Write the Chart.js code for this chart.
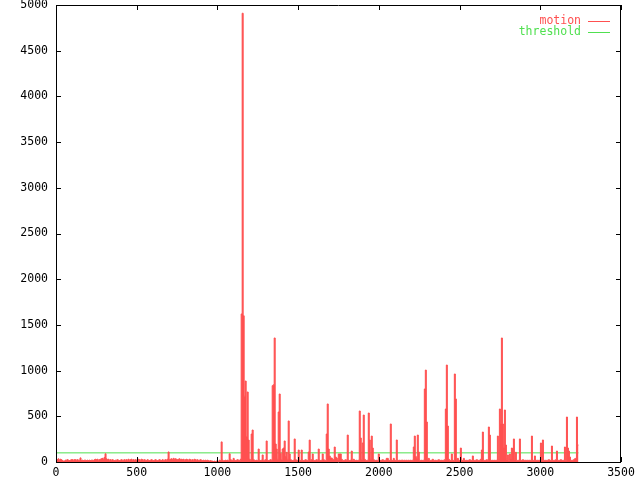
<!DOCTYPE html>
<html>
<head>
<meta charset="utf-8">
<script src="https://cdn.jsdelivr.net/npm/chart.js@4/dist/chart.umd.min.js"></script>
<style>
  html, body { margin: 0; padding: 0; background: #fff; }
  #chart { display: block; }
</style>
</head>
<body>
<canvas id="chart" width="640" height="480"></canvas>
<script>
// motion level, one sample roughly every 6.2 frames
const frameStep = 6.2;
const motion = [
    30, 25, 35, 20, 30, 25, 15, 10, 10, 20,
    20, 25, 20, 15, 20, 25, 25, 20, 25, 25,
    20, 25, 20, 20, 45, 15, 20, 15, 20, 20,
    15, 20, 15, 20, 15, 20, 20, 15, 25, 30,
    25, 30, 20, 25, 30, 35, 40, 30, 50, 90,
    35, 25, 30, 20, 25, 20, 25, 20, 15, 20,
    20, 25, 20, 15, 20, 25, 20, 20, 25, 20,
    25, 20, 30, 20, 25, 30, 20, 25, 20, 25,
    20, 25, 30, 25, 20, 30, 25, 20, 25, 20,
    15, 25, 20, 15, 20, 25, 20, 15, 20, 25,
    20, 15, 20, 25, 20, 15, 25, 20, 20, 25,
    20, 30, 110, 25, 30, 35, 25, 40, 30, 35,
    30, 25, 30, 35, 25, 30, 25, 30, 20, 25,
    30, 25, 20, 30, 25, 20, 25, 20, 30, 25,
    20, 25, 15, 20, 25, 20, 15, 20, 15, 20,
    15, 20, 15, 10, 15, 10, 10, 5, 10, 5,
    10, 10, 5, 20, 15, 220, 20, 10, 15, 20,
    15, 20, 10, 90, 25, 20, 15, 40, 20, 15,
    20, 25, 20, 15, 30, 1620, 4910, 1600, 720, 886,
    277, 766, 240, 30, 20, 306, 350, 25, 20, 15,
    20, 15, 142, 20, 15, 20, 77, 15, 20, 25,
    230, 20, 15, 20, 25, 20, 835, 845, 1357, 197,
    142, 30, 547, 744, 95, 25, 142, 153, 230, 60,
    106, 30, 449, 88, 25, 20, 15, 20, 252, 25,
    20, 15, 131, 20, 15, 131, 20, 15, 20, 25,
    20, 15, 109, 240, 20, 25, 88, 20, 15, 20,
    25, 20, 142, 20, 15, 20, 88, 25, 20, 15,
    306, 635, 142, 66, 44, 44, 30, 25, 164, 55,
    44, 25, 88, 88, 88, 30, 20, 15, 20, 25,
    20, 295, 20, 15, 20, 120, 15, 30, 20, 15,
    20, 15, 20, 558, 263, 25, 208, 514, 30, 20,
    15, 20, 536, 241, 30, 284, 153, 25, 20, 15,
    20, 15, 88, 20, 15, 20, 25, 20, 15, 20,
    40, 40, 20, 15, 416, 20, 15, 40, 20, 15,
    241, 20, 15, 20, 15, 20, 20, 15, 20, 15,
    20, 15, 20, 15, 20, 15, 20, 164, 284, 60,
    40, 295, 109, 20, 15, 20, 15, 20, 799, 1006,
    438, 30, 40, 20, 15, 20, 30, 20, 15, 20,
    15, 20, 25, 20, 15, 20, 15, 20, 25, 580,
    1061, 394, 30, 20, 15, 88, 20, 15, 963, 690,
    20, 40, 20, 15, 153, 20, 15, 40, 20, 15,
    20, 15, 20, 25, 20, 15, 66, 20, 15, 20,
    25, 20, 15, 20, 30, 131, 328, 20, 15, 20,
    25, 20, 383, 295, 20, 15, 20, 15, 20, 15,
    20, 284, 20, 580, 416, 1357, 416, 153, 569, 186,
    30, 77, 20, 88, 40, 153, 142, 252, 30, 106,
    20, 15, 20, 252, 20, 15, 25, 20, 15, 20,
    15, 20, 15, 20, 15, 284, 20, 15, 66, 20,
    15, 20, 15, 20, 208, 20, 241, 20, 15, 20,
    15, 20, 25, 20, 15, 175, 20, 15, 20, 25,
    120, 20, 15, 20, 25, 20, 15, 20, 164, 20,
    492, 153, 120, 55, 20, 15, 20, 25, 35, 40,
    492, 186, 186
];
const thresholdLevel = [100, 100];

const xTicks = [0, 500, 1000, 1500, 2000, 2500, 3000, 3500];
const yTicks = [0, 500, 1000, 1500, 2000, 2500, 3000, 3500, 4000, 4500, 5000];

const RED = '#ff5050';
const GREEN = '#50e050';
const FONT = { family: "'DejaVu Sans Mono', monospace", size: 11.5 };

const lastFrame = (motion.length - 1) * frameStep;
const motionPoints = motion.map((v, i) => ({ x: i * frameStep, y: v }));
const thresholdPoints = thresholdLevel.map((v, i) => ({ x: i * lastFrame, y: v }));

// gnuplot style frame with inward ticks on all four sides
const framePlugin = {
    id: 'frame',
    afterDatasetsDraw(chart) {
        const { ctx, chartArea: a, scales } = chart;
        const t = 5;
        ctx.save();
        ctx.strokeStyle = '#000';
        ctx.lineWidth = 1;
        ctx.beginPath();
        ctx.rect(a.left + 0.5, a.top + 0.5, a.right - a.left - 1, a.bottom - a.top);
        xTicks.forEach(v => {
            const x = Math.round(scales.x.getPixelForValue(v)) + 0.5;
            ctx.moveTo(x, a.bottom); ctx.lineTo(x, a.bottom - t);
            ctx.moveTo(x, a.top); ctx.lineTo(x, a.top + t);
        });
        yTicks.forEach(v => {
            const y = Math.round(scales.y.getPixelForValue(v)) + 0.5;
            ctx.moveTo(a.left, y); ctx.lineTo(a.left + t, y);
            ctx.moveTo(a.right, y); ctx.lineTo(a.right - t, y);
        });
        ctx.stroke();
        ctx.restore();
    },
    afterDraw(chart) {
        // key in the top right corner: label, then line sample
        const { ctx, chartArea: a } = chart;
        ctx.save();
        ctx.font = FONT.size + 'px ' + FONT.family;
        ctx.textAlign = 'right';
        ctx.textBaseline = 'middle';
        chart.data.datasets.forEach((ds, i) => {
            const y = a.top + 16 + i * 11;
            ctx.fillStyle = ds.borderColor;
            ctx.fillText(ds.label, a.right - 40, y);
            ctx.strokeStyle = ds.borderColor;
            ctx.lineWidth = 1;
            ctx.beginPath();
            ctx.moveTo(a.right - 33, y + 0.5);
            ctx.lineTo(a.right - 11, y + 0.5);
            ctx.stroke();
        });
        ctx.restore();
    }
};

new Chart(document.getElementById('chart'), {
    type: 'line',
    data: {
        datasets: [{
            label: 'motion',
            data: motionPoints,
            borderColor: RED,
            backgroundColor: RED,
            borderWidth: 1,
            pointRadius: 0,
            stepped: true,
            fill: 'origin'
        }, {
            label: 'threshold',
            data: thresholdPoints,
            borderColor: GREEN,
            borderWidth: 1,
            pointRadius: 0,
            fill: false
        }]
    },
    options: {
        responsive: false,
        animation: false,
        devicePixelRatio: 1,
        layout: { padding: { top: 5, right: 19, left: 0, bottom: 0 } },
        plugins: { legend: { display: false }, tooltip: { enabled: false } },
        scales: {
            x: {
                type: 'linear',
                min: 0,
                max: 3500,
                afterBuildTicks: s => { s.ticks = xTicks.map(v => ({ value: v })); },
                afterFit: s => { s.height = 18; s.paddingLeft = 0; s.paddingRight = 0; },
                grid: { display: false, drawTicks: false },
                border: { display: false },
                ticks: { color: '#000', font: FONT, padding: 4, maxRotation: 0, callback: v => String(v) }
            },
            y: {
                type: 'linear',
                min: 0,
                max: 5000,
                afterBuildTicks: s => { s.ticks = yTicks.map(v => ({ value: v })); },
                afterFit: s => { s.width = 56; s.paddingTop = 0; s.paddingBottom = 0; },
                grid: { display: false, drawTicks: false },
                border: { display: false },
                ticks: { color: '#000', font: FONT, padding: 8, callback: v => String(v) }
            }
        }
    },
    plugins: [framePlugin]
});
</script>
</body>
</html>
